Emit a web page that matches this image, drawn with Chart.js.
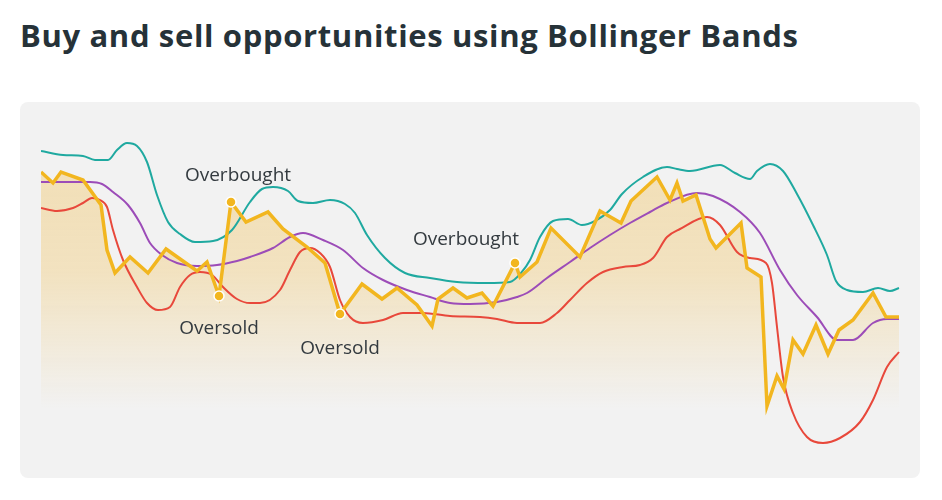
<!DOCTYPE html>
<html>
<head>
<meta charset="utf-8">
<script src="https://cdn.jsdelivr.net/npm/chart.js@4"></script>
<style>
  body { margin: 0; background: #fff; font-family: "Open Sans", sans-serif; }
  h1 { position: absolute; left: 20px; top: 14px; margin: 0; font-size: 31px; line-height: normal; font-weight: 700; color: #263238; letter-spacing: 0.65px; white-space: nowrap; }
  .panel { position: absolute; left: 20px; top: 102px; width: 900px; height: 376px; background: #f2f2f2; border-radius: 8px; }
</style>
</head>
<body>
<h1>Buy and sell opportunities using Bollinger Bands</h1>
<div class="panel"><canvas id="bands" width="900" height="376"></canvas></div>
<script>
// price, in days and price units
const priceDays = [0, 1.2, 2, 4.2, 6, 6.6, 7.4, 8.9, 10.7, 12.5, 15.6, 16.6, 17.8, 19, 20.5, 22.7, 24.2, 26.6, 28.4, 29.9,
  32.1, 34.1, 35.6, 37.6, 39.1, 39.7, 41.2, 42.6, 44.1, 45.2, 47.4, 47.9, 49.6, 51, 53.9, 55.9, 58, 59, 61.6, 62.9,
  63.6, 64.2, 65.5, 66.9, 67.5, 70, 70.6, 72, 72.6, 73.6, 74.3, 75.2, 76.2, 77.5, 78.7, 79.8, 81.2, 83.2, 84.5, 85.8];
const priceValues = [59.6, 57.4, 59.6, 58, 53, 44, 39.4, 42.6, 39.4, 44.2, 39.8, 41.6, 34.8, 53.6, 49.6, 51.6, 48.2, 44.6, 41.4, 31.2,
  37.2, 34.2, 36.4, 33, 28.8, 34.2, 36.4, 34.4, 35.4, 32.8, 41.4, 38.6, 41.6, 48.4, 42.6, 51.8, 49.4, 53.8, 58.6, 54,
  57.4, 53.8, 55, 46.2, 44.4, 49.4, 40.4, 38.6, 12.8, 18.8, 16.2, 26, 23.2, 29, 23.2, 28, 30, 35.4, 30.6, 30.6];

const upperDays = [0, 2.2, 4.2, 5.4, 6.7, 7.6, 8.6, 9.6, 10.6, 11.6, 12.7, 13.9, 15.4, 17.2, 19.1, 20.9, 22.1, 23.2, 24.7, 25.7,
  27.2, 28.9, 30.4, 31.4, 32.6, 34.4, 36.4, 38.9, 41.6, 44.6, 46.9, 48, 48.9, 49.9, 51.2, 52.7, 54.1, 55.4, 56.9, 58.1,
  60.2, 62.6, 63.6, 64.9, 67.9, 69.4, 70.9, 71.6, 72.9, 74.2, 75.6, 77.2, 78.6, 79.5, 80.6, 82.2, 83.7, 84.9, 85.8];
const upperValues = [63.8, 63, 62.8, 62, 62, 64, 65.4, 64.8, 61.6, 55, 49.6, 47.2, 45.6, 45.8, 48, 53.6, 56.2, 56.6, 55.8, 53.8,
  53.4, 54, 53.2, 51.4, 47, 42.4, 39.4, 38.4, 37.6, 37.4, 37.6, 39.4, 42, 46.6, 49.8, 50.2, 49, 49.8, 52, 55.2,
  58.6, 60.6, 60.2, 59.8, 61, 59.4, 58.2, 59.8, 61.2, 59.8, 55.2, 49, 43, 37.8, 36, 35.6, 36.4, 35.8, 36.4];

const middleDays = [0, 4.9, 6.1, 7.2, 8.7, 9.9, 10.9, 12.1, 13.6, 15.6, 17.6, 19.6, 20.9, 23.2, 24.9, 26.2, 28.2, 30.2, 32.2, 34.2,
  36.6, 38.9, 40.9, 42.9, 45.6, 47.6, 48.6, 50.6, 52.9, 54.9, 56.9, 58.9, 60.9, 62.6, 65.6, 67.2, 69.9, 71.9, 73.9, 75.6,
  77.6, 79.6, 81.2, 83.2, 84.6, 85.8];
const middleValues = [57.6, 57.6, 57.2, 55.6, 53, 49.4, 45.4, 43, 41.4, 40.8, 41, 41.8, 42.6, 44.4, 46.6, 47.4, 46, 44, 40.4, 38,
  36, 34.6, 33.4, 33.2, 33.6, 34.6, 35.4, 38.4, 41.6, 44.4, 47, 49.4, 51.6, 53.4, 55.4, 54.8, 51.6, 47.4, 40, 35,
  30.6, 26, 26, 29.4, 30.2, 30.2];

const lowerDays = [0, 1.6, 3.2, 4.2, 5.1, 5.9, 6.6, 7.2, 8.2, 9.6, 10.6, 11.7, 12.9, 13.9, 14.9, 15.9, 17.1, 18.2, 19.6, 20.9,
  21.9, 23.9, 24.9, 25.9, 26.9, 27.9, 28.9, 29.9, 30.9, 32.2, 34.2, 36.2, 38.2, 40.9, 43.9, 45.6, 47.6, 49.9, 51.6, 52.9,
  54.6, 56.2, 58.2, 59.9, 61.2, 62.6, 63.9, 66.6, 67.9, 69.6, 70.9, 72.5, 73.1, 73.6, 74.2, 75.2, 76.6, 78.2, 79.9, 81.9,
  83.2, 84.6, 85.8];
const lowerValues = [52.4, 51.8, 52.4, 53.4, 54.4, 54, 52.6, 48, 42, 36.6, 33.4, 32, 32.6, 36.6, 39, 39.6, 39, 36.6, 34.2, 33.4,
  33.4, 36, 40, 43.6, 44.4, 43.4, 40.6, 34, 30.6, 29.4, 30, 31.4, 31.4, 30.8, 30.6, 30.2, 29.4, 29.4, 31.4, 34,
  37.4, 39.6, 40.6, 41, 42.4, 46.6, 48.2, 50.6, 49, 43.6, 42.4, 41.4, 37.4, 28.6, 18.6, 11.4, 6.6, 5.4, 6.4, 9.6,
  14, 20.6, 23.6];

// signals on the price line: index -> label
const signalIndex = [12, 13, 19, 30];
const signalText = ["Oversold", "Overbought", "Oversold", "Overbought"];
const signalOffset = [[0, 33], [7, -26], [0, 35], [-49, -23]];

const pts = (xs, ys) => xs.map((x, i) => ({ x: x, y: ys[i] }));

const signalLabels = {
  id: "signalLabels",
  afterDatasetsDraw(chart) {
    const meta = chart.getDatasetMeta(0);
    const c = chart.ctx;
    c.save();
    c.font = "19px 'Open Sans'";
    c.fillStyle = "#333a3f";
    c.textAlign = "center";
    c.textBaseline = "middle";
    signalIndex.forEach((idx, i) => {
      const p = meta.data[idx];
      c.fillText(signalText[i], p.x + signalOffset[i][0], p.y + signalOffset[i][1]);
    });
    c.restore();
  }
};

const ctx = document.getElementById("bands");

new Chart(ctx, {
  type: "line",
  data: {
    datasets: [
      {
        label: "Price",
        data: pts(priceDays, priceValues),
        borderColor: "#f2b61f",
        borderWidth: 3.5,
        tension: 0,
        fill: "start",
        backgroundColor: (c) => {
          const area = c.chart.chartArea;
          if (!area) return "rgba(0,0,0,0)";
          const g = c.chart.ctx.createLinearGradient(0, area.top, 0, area.bottom);
          g.addColorStop(0, "rgba(242,200,110,0.48)");
          g.addColorStop(0.45, "rgba(242,200,110,0.38)");
          g.addColorStop(0.83, "rgba(242,200,110,0)");
          return g;
        },
        pointRadius: (c) => signalIndex.includes(c.dataIndex) ? 5 : 0,
        pointBackgroundColor: "#f2b61f",
        pointBorderColor: "#ffffff",
        pointBorderWidth: 1.5,
        order: 0
      },
      {
        label: "Upper band",
        data: pts(upperDays, upperValues),
        borderColor: "#1fa9a0",
        borderWidth: 2,
        cubicInterpolationMode: "monotone",
        pointRadius: 0,
        fill: false,
        order: 1
      },
      {
        label: "Middle band",
        data: pts(middleDays, middleValues),
        borderColor: "#9c4cb8",
        borderWidth: 2,
        cubicInterpolationMode: "monotone",
        pointRadius: 0,
        fill: false,
        order: 2
      },
      {
        label: "Lower band",
        data: pts(lowerDays, lowerValues),
        borderColor: "#e8483b",
        borderWidth: 2,
        cubicInterpolationMode: "monotone",
        pointRadius: 0,
        fill: false,
        order: 3
      }
    ]
  },
  options: {
    responsive: false,
    animation: false,
    devicePixelRatio: 1,
    layout: { padding: { left: 21, right: 19, top: 8, bottom: 8 } },
    scales: {
      x: { type: "linear", min: 0, max: 86, display: false },
      y: { min: 0, max: 72, display: false }
    },
    plugins: {
      legend: { display: false },
      tooltip: { enabled: false },
      filler: { drawTime: "beforeDatasetsDraw" }
    }
  },
  plugins: [signalLabels]
});
</script>
</body>
</html>
